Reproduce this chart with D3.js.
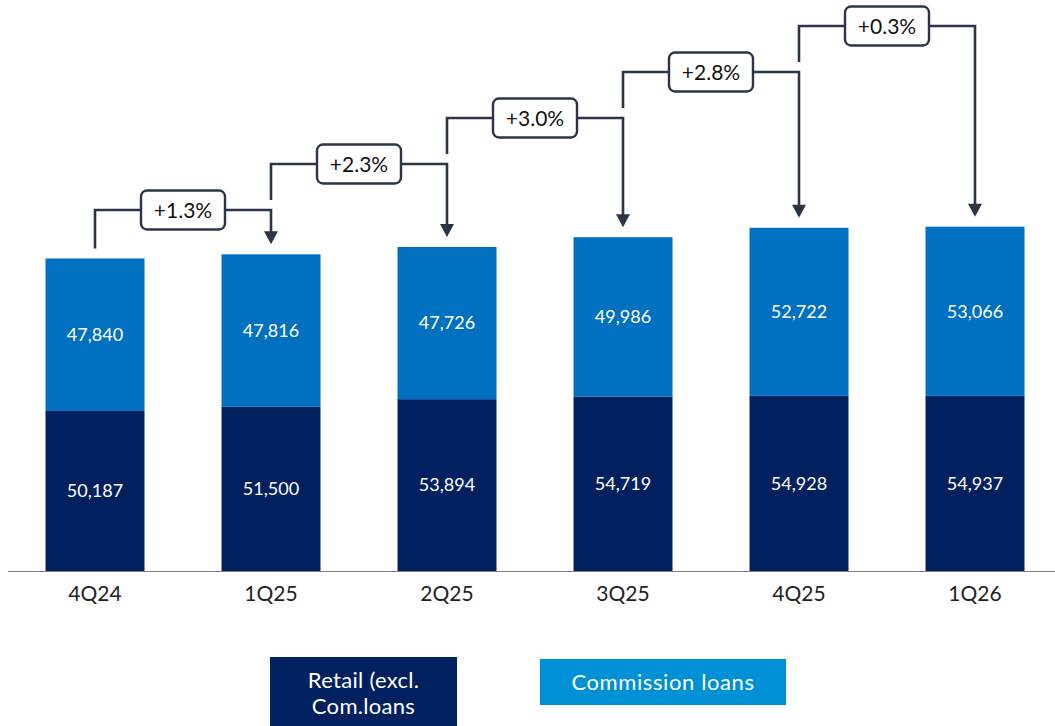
<!DOCTYPE html>
<html>
<head>
<meta charset="utf-8">
<script src="https://cdn.jsdelivr.net/npm/d3@7"></script>
<style>
  html, body { margin: 0; padding: 0; background: #fff; }
  svg { display: block; font-family: Lato, "Open Sans", sans-serif; }
</style>
</head>
<body>
<svg id="chart" width="1055" height="726"></svg>
<script>
const categories = ["4Q24", "1Q25", "2Q25", "3Q25", "4Q25", "1Q26"];
const retail = [50187, 51500, 53894, 54719, 54928, 54937];
const commission = [47840, 47816, 47726, 49986, 52722, 53066];
const growthLabels = ["+1.3%", "+2.3%", "+3.0%", "+2.8%", "+0.3%"];
const seriesNames = ["Retail (excl.\nCom.loans", "Commission loans"];

const W = 1055, H = 726;
const baseline = 571;
const colRetail = "#00205F";
const colComm = "#0070C0";
const colLegendComm = "#0090D6";
const colConn = "#2B3547";

const svg = d3.select("#chart");

const x = d3.scaleBand().domain(categories).range([7, 1063])
  .paddingInner(0.4375).paddingOuter(0.21875);
const y = d3.scaleLinear().domain([0, 110000]).range([baseline, 220.3]);

const data = categories.map((c, i) => ({
  cat: c, retail: retail[i], comm: commission[i], total: retail[i] + commission[i]
}));

// bars
const g = svg.append("g");
g.selectAll("rect.retail").data(data).join("rect")
  .attr("class", "retail")
  .attr("x", d => x(d.cat)).attr("width", x.bandwidth())
  .attr("y", d => y(d.retail)).attr("height", d => y(0) - y(d.retail))
  .attr("fill", colRetail);
g.selectAll("rect.comm").data(data).join("rect")
  .attr("class", "comm")
  .attr("x", d => x(d.cat)).attr("width", x.bandwidth())
  .attr("y", d => y(d.total)).attr("height", d => y(d.retail) - y(d.total))
  .attr("fill", colComm);

const fmt = d3.format(",");
g.selectAll("text.lr").data(data).join("text")
  .attr("class", "lr")
  .attr("x", d => x(d.cat) + x.bandwidth() / 2)
  .attr("y", d => (y(0) + y(d.retail)) / 2)
  .attr("dy", "0.35em").attr("text-anchor", "middle")
  .attr("fill", "#fff").attr("font-size", 18)
  .text(d => fmt(d.retail));
g.selectAll("text.lc").data(data).join("text")
  .attr("class", "lc")
  .attr("x", d => x(d.cat) + x.bandwidth() / 2)
  .attr("y", d => (y(d.retail) + y(d.total)) / 2)
  .attr("dy", "0.35em").attr("text-anchor", "middle")
  .attr("fill", "#fff").attr("font-size", 18)
  .text(d => fmt(d.comm));

// axis
const axis = svg.append("g").attr("transform", `translate(0,${baseline})`)
  .call(d3.axisBottom(x).tickSize(0).tickPadding(15));
axis.select(".domain").remove();
axis.append("line").attr("x1", 8).attr("x2", W).attr("y1", 0.5).attr("y2", 0.5)
  .attr("stroke", "#7f7f7f").attr("stroke-width", 1.2);
axis.selectAll(".tick text").attr("font-size", 21).attr("fill", "#222")
  .attr("font-family", "Lato, 'Open Sans', sans-serif");

// connectors
const levelBottom = 210, levelStep = 46, gap = 10;
const cx = c => x(c) + x.bandwidth() / 2;
const conn = svg.append("g");
growthLabels.forEach((lab, i) => {
  const a = data[i], b = data[i + 1];
  const xa = cx(a.cat), xb = cx(b.cat);
  const level = levelBottom - levelStep * i;
  const startY = i === 0 ? y(a.total) - gap : (levelBottom - levelStep * (i - 1)) - gap;
  const tipY = y(b.total) - gap;
  const headH = 13, headW = 14;
  conn.append("path")
    .attr("d", `M${xa},${startY}V${level}H${xb}V${tipY - headH + 1}`)
    .attr("fill", "none").attr("stroke", colConn).attr("stroke-width", 2.6);
  conn.append("path")
    .attr("d", `M${xb - headW / 2},${tipY - headH}L${xb + headW / 2},${tipY - headH}L${xb},${tipY}Z`)
    .attr("fill", colConn);
  const mx = (xa + xb) / 2;
  const bw = 84, bh = 39;
  conn.append("rect")
    .attr("x", mx - bw / 2).attr("y", level - bh / 2)
    .attr("width", bw).attr("height", bh).attr("rx", 6)
    .attr("fill", "#fff").attr("stroke", colConn).attr("stroke-width", 2.4);
  conn.append("text")
    .attr("x", mx).attr("y", level).attr("dy", "0.36em")
    .attr("text-anchor", "middle").attr("font-size", 21).attr("fill", "#111")
    .text(lab);
});

// legend
const leg = svg.append("g");
leg.append("rect").attr("x", 270).attr("y", 657).attr("width", 187).attr("height", 70)
  .attr("fill", colRetail);
const lt = leg.append("text").attr("x", 363.5).attr("text-anchor", "middle")
  .attr("font-size", 22).attr("letter-spacing", 0.3).attr("fill", "#fff");
seriesNames[0].split("\n").forEach((line, k) => {
  lt.append("tspan").attr("x", 363.5).attr("y", 688 + k * 26).text(line);
});
leg.append("rect").attr("x", 540).attr("y", 659).attr("width", 246).attr("height", 46)
  .attr("fill", colLegendComm);
leg.append("text").attr("x", 663).attr("y", 682).attr("dy", "0.35em")
  .attr("text-anchor", "middle").attr("font-size", 22).attr("letter-spacing", 0.6)
  .attr("fill", "#fff")
  .text(seriesNames[1]);
</script>
</body>
</html>
